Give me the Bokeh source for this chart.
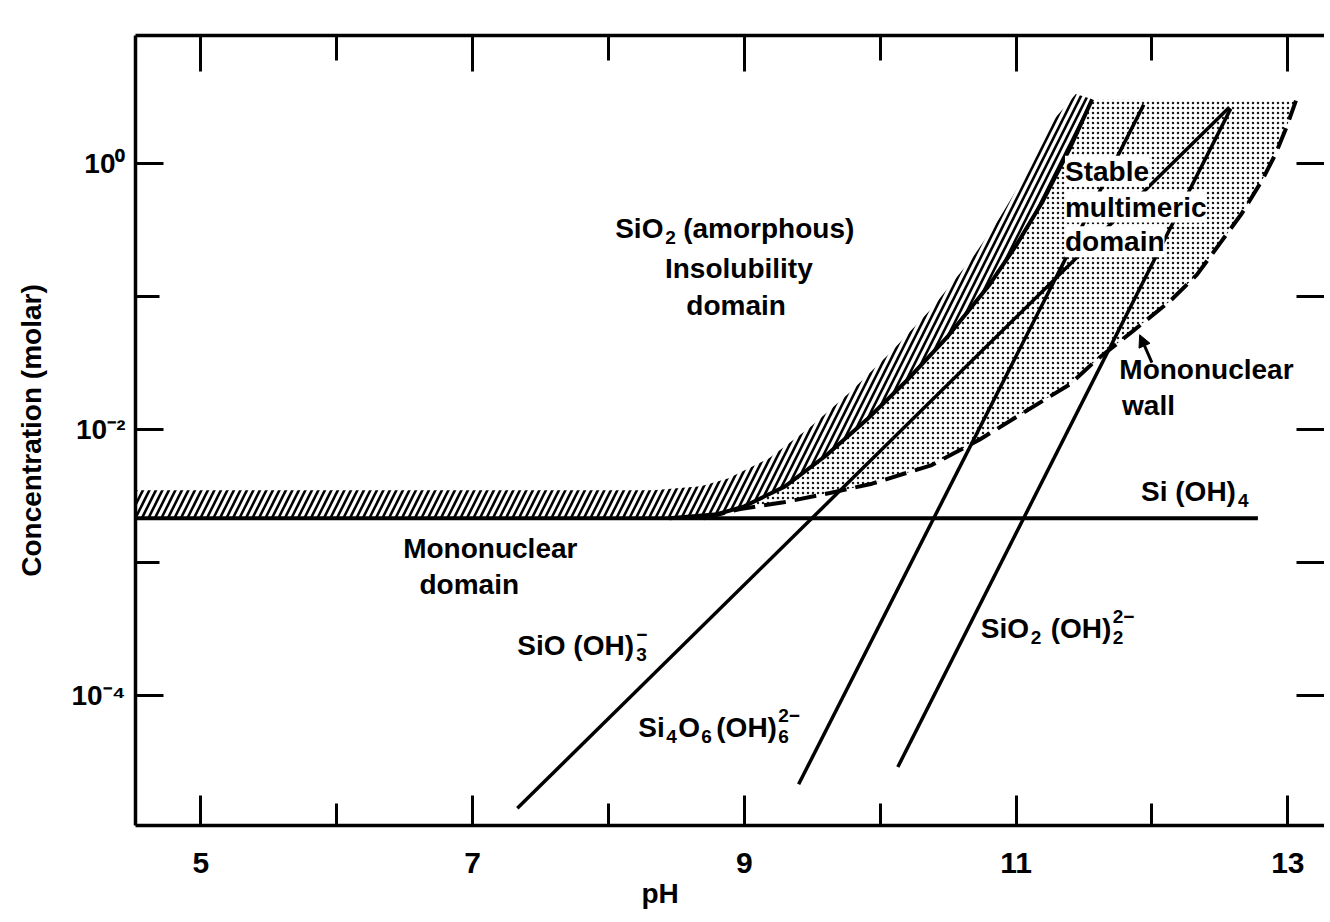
import numpy as np
from bokeh.plotting import figure
from bokeh.models import (FixedTicker, LinearAxis, LogAxis, Label, Arrow, NormalHead,
                          CustomJSTickFormatter, Range1d)
from bokeh.embed import file_html
from bokeh.resources import INLINE

# ---------------- data (pH, log10 of concentration in mol/L) ----------------
si_oh4_ph = [4.52, 12.78]
si_oh4_log10c = [-2.67, -2.67]

solubility_ph = [8.45, 8.8, 9.0, 9.3, 9.6, 9.9, 10.2, 10.5, 10.8, 11.0, 11.2, 11.4, 11.56]
solubility_log10c = [-2.67, -2.64, -2.58, -2.43, -2.20, -1.93, -1.63, -1.30, -0.92, -0.62, -0.28, 0.12, 0.48]

wall_ph = [8.70, 8.97, 9.29, 9.63, 9.94, 10.38, 10.73, 11.08, 11.40, 11.58, 11.85,
           12.13, 12.33, 12.51, 12.66, 12.81, 12.91, 12.99, 13.06]
wall_log10c = [-2.67, -2.60, -2.55, -2.48, -2.41, -2.27, -2.08, -1.86, -1.66, -1.49, -1.27,
               -1.04, -0.84, -0.59, -0.38, -0.13, 0.07, 0.27, 0.47]

sio_oh3_ph = [7.33, 12.57]
sio_oh3_log10c = [-4.85, 0.42]
si4o6_ph = [9.40, 11.94]
si4o6_log10c = [-4.67, 0.44]
sio2_oh2_ph = [10.13, 12.58]
sio2_oh2_log10c = [-4.54, 0.41]

x_major_ticks = [5, 7, 9, 11, 13]
x_minor_ticks = [5, 6, 7, 8, 9, 10, 11, 12, 13]
y_major_ticks = [1e-4, 1e-2, 1e0]
y_minor_ticks = [1e-5, 1e-4, 1e-3, 1e-2, 1e-1, 1e0, 1e1]


def molar(vals):
    return [10.0 ** v for v in vals]


FONT = "Liberation Sans"

p = figure(width=1324, height=920, x_range=Range1d(4.52, 13.27),
           y_range=Range1d(10 ** -4.98, 10 ** 0.96), y_axis_type="log",
           output_backend="svg", toolbar_location=None,
           min_border_left=135, min_border_right=0, min_border_top=35, min_border_bottom=95)
p.outline_line_color = None
p.grid.visible = False
p.background_fill_color = "white"

# x-axis title placed as a (below) plot title so it can sit left of centre, as in the source
p.title_location = "below"
p.title.text = "pH"
p.title.align = "left"
p.title.offset = 506
p.title.standoff = 0
p.title.text_font = FONT
p.title.text_font_style = "bold"
p.title.text_font_size = "28px"
p.title.text_color = "black"

# ---------------- axes ----------------
xa = p.xaxis[0]
xa.ticker = FixedTicker(ticks=x_major_ticks, minor_ticks=x_minor_ticks)
ya = p.yaxis[0]
ya.ticker = FixedTicker(ticks=y_major_ticks, minor_ticks=y_minor_ticks)
ya.formatter = CustomJSTickFormatter(code="""
const e = Math.round(Math.log10(tick));
const m = {"0":"⁰","1":"¹","2":"²","3":"³","4":"⁴","5":"⁵","-":"⁻"};
return "10" + String(e).split("").map(c => m[c]).join("");
""")
for ax in (xa, ya):
    ax.axis_line_width = 3.5
    ax.major_tick_out = 0
    ax.minor_tick_out = 0
    ax.major_tick_line_width = 3
    ax.minor_tick_line_width = 3
    ax.major_label_text_font = FONT
    ax.major_label_text_font_style = "bold"
    ax.major_label_text_color = "black"
xa.major_tick_in = 30
xa.minor_tick_in = 22
xa.major_label_text_font_size = "30px"
xa.major_label_standoff = 27
ya.major_tick_in = 28
ya.minor_tick_in = 24
ya.major_label_text_font_size = "28px"
ya.major_label_standoff = 10
ya.axis_label = "Concentration (molar)"
ya.axis_label_text_font = FONT
ya.axis_label_text_font_style = "bold"
ya.axis_label_text_font_size = "28px"
ya.axis_label_text_color = "black"
ya.axis_label_standoff = 22

blank = CustomJSTickFormatter(code="return '';")
top = LinearAxis(ticker=FixedTicker(ticks=x_major_ticks, minor_ticks=x_minor_ticks),
                 formatter=blank, major_label_text_font_size="1px", major_label_standoff=0,
                 axis_line_width=3.5, major_tick_in=36, major_tick_out=0, minor_tick_in=25,
                 minor_tick_out=0, major_tick_line_width=3, minor_tick_line_width=3)
p.add_layout(top, "above")
right = LogAxis(ticker=FixedTicker(ticks=y_minor_ticks, minor_ticks=[]),
                formatter=blank, major_label_text_font_size="1px", major_label_standoff=0,
                axis_line_color=None, major_tick_in=28, major_tick_out=0,
                major_tick_line_width=3)
p.add_layout(right, "right")

# ---------------- regions ----------------
# stippled "stable multimeric" domain between solubility curve and mononuclear wall
stip_x = solubility_ph + wall_ph[::-1]
stip_y = molar(solubility_log10c + wall_log10c[::-1])
p.patch(stip_x, stip_y, fill_color=None, line_color=None,
        hatch_pattern=".", hatch_scale=5, hatch_weight=2.4, hatch_color="black", hatch_alpha=0.9)

# hatched insolubility boundary (Si(OH)4 level, then the solubility curve)
base_ph = [4.30] + solubility_ph
base_log = [si_oh4_log10c[0]] + solubility_log10c
outer_ph = [v - 0.12 for v in base_ph]
outer_log = [min(v + 0.21, 0.52) for v in base_log]
p.patch(base_ph + outer_ph[::-1], molar(base_log + outer_log[::-1]),
        fill_color=None, line_color=None, hatch_pattern="/", hatch_scale=13,
        hatch_weight=2.6, hatch_color="black")

# ---------------- lines ----------------
for xs, ys in ((sio_oh3_ph, sio_oh3_log10c), (si4o6_ph, si4o6_log10c),
               (sio2_oh2_ph, sio2_oh2_log10c)):
    p.line(xs, molar(ys), line_color="black", line_width=3.5)
p.line(si_oh4_ph, molar(si_oh4_log10c), line_color="black", line_width=4)
p.line(solubility_ph, molar(solubility_log10c), line_color="black", line_width=4)
p.line(wall_ph, molar(wall_log10c), line_color="black", line_width=4, line_dash="22 9")


# ---------------- labels ----------------
def chem(x, logc, parts, align="left", bg=None):
    for text, dx, dy, size in parts:
        kw = {}
        if bg is not None:
            kw["background_fill_color"] = bg
        p.add_layout(Label(x=x, y=10 ** logc, x_offset=dx, y_offset=dy, text=text,
                           text_font=FONT, text_font_style="bold",
                           text_font_size=f"{size}px", text_baseline="middle",
                           text_align=align, text_color="black", **kw))


M, S = 28, 19
chem(8.05, -0.49, [("SiO", 0, 0, M), ("2", 50, -9, S), ("(amorphous)", 68, 0, M)])
chem(8.96, -0.79, [("Insolubility", 0, 0, M)], align="center")
chem(8.94, -1.07, [("domain", 0, 0, M)], align="center")
chem(11.36, -0.06, [("Stable", 0, 0, M)], bg="white")
chem(11.36, -0.33, [("multimeric", 0, 0, M)], bg="white")
chem(11.36, -0.59, [("domain", 0, 0, M)], bg="white")
chem(11.76, -1.55, [("Mononuclear", 0, 0, M)])
chem(11.78, -1.82, [("wall", 0, 0, M)])
chem(6.49, -2.90, [("Mononuclear", 0, 0, M)])
chem(6.61, -3.17, [("domain", 0, 0, M)])
chem(11.92, -2.47, [("Si (OH)", 0, 0, M), ("4", 97, -9, S)])
chem(7.33, -3.63, [("SiO (OH)", 0, 0, M), ("3", 119, -9, S), ("\u2212", 119, 11, S)])
chem(8.22, -4.24, [("Si", 0, 0, M), ("4", 28, -9, S), ("O", 40, 0, M), ("6", 63, -9, S),
                   ("(OH)", 78, 0, M), ("6", 140, -9, S), ("2\u2212", 140, 12, S)])
chem(10.74, -3.50, [("SiO", 0, 0, M), ("2", 50, -9, S), ("(OH)", 70, 0, M),
                    ("2", 132, -9, S), ("2\u2212", 132, 12, S)])

p.add_layout(Arrow(end=NormalHead(size=12, fill_color="black", line_color="black"),
                   x_start=12.00, y_start=10 ** -1.50, x_end=11.91, y_end=10 ** -1.29,
                   line_width=3, line_color="black"))

open("out.html", "w").write(file_html(p, INLINE))
